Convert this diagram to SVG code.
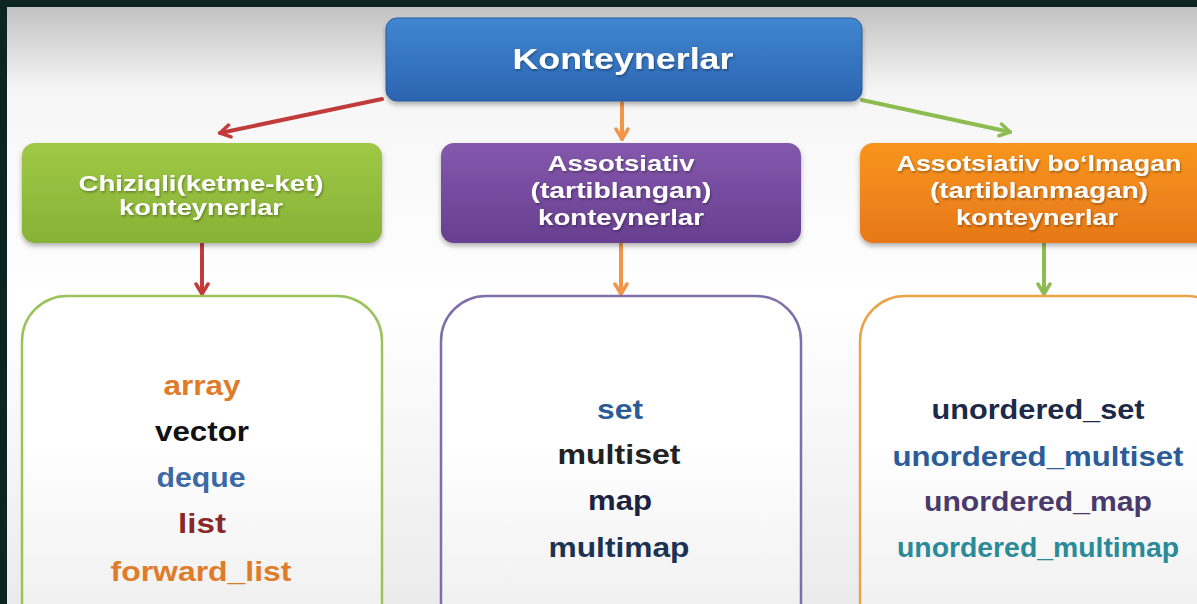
<svg xmlns="http://www.w3.org/2000/svg" width="1197" height="604" viewBox="0 0 1197 604">
<defs>
  <linearGradient id="bg" x1="0" y1="0" x2="0" y2="1">
    <stop offset="0" stop-color="#c2c2c2"/>
    <stop offset="0.14" stop-color="#f6f6f6"/>
    <stop offset="0.5" stop-color="#ffffff"/>
    <stop offset="1" stop-color="#ebebeb"/>
  </linearGradient>
  <linearGradient id="gBlue" x1="0" y1="0" x2="0" y2="1">
    <stop offset="0" stop-color="#3f86d0"/>
    <stop offset="1" stop-color="#2c64b0"/>
  </linearGradient>
  <linearGradient id="gGreen" x1="0" y1="0" x2="0" y2="1">
    <stop offset="0" stop-color="#9fc845"/>
    <stop offset="1" stop-color="#86b236"/>
  </linearGradient>
  <linearGradient id="gPurple" x1="0" y1="0" x2="0" y2="1">
    <stop offset="0" stop-color="#8458ac"/>
    <stop offset="1" stop-color="#683f90"/>
  </linearGradient>
  <linearGradient id="gOrange" x1="0" y1="0" x2="0" y2="1">
    <stop offset="0" stop-color="#f8951f"/>
    <stop offset="1" stop-color="#e77818"/>
  </linearGradient>
  <linearGradient id="gBox" x1="0" y1="0" x2="0" y2="1">
    <stop offset="0" stop-color="#ffffff"/>
    <stop offset="0.4" stop-color="#ffffff"/>
    <stop offset="1" stop-color="#ececec"/>
  </linearGradient>
  <filter id="shadow" x="-10%" y="-10%" width="120%" height="140%">
    <feDropShadow dx="0" dy="3" stdDeviation="2.5" flood-color="#000" flood-opacity="0.3"/>
  </filter>
  <filter id="tshadow" x="-5%" y="-20%" width="110%" height="150%">
    <feDropShadow dx="1" dy="1.5" stdDeviation="0.8" flood-color="#000" flood-opacity="0.35"/>
  </filter>
  <marker id="mRed" viewBox="0 0 16 16" refX="13" refY="8" markerWidth="16" markerHeight="16" markerUnits="userSpaceOnUse" orient="auto">
    <path d="M3,2 L13,8 L3,14" fill="none" stroke="#c23b3b" stroke-width="3.5" stroke-linecap="round" stroke-linejoin="round"/>
  </marker>
  <marker id="mOrange" viewBox="0 0 16 16" refX="13" refY="8" markerWidth="16" markerHeight="16" markerUnits="userSpaceOnUse" orient="auto">
    <path d="M3,2 L13,8 L3,14" fill="none" stroke="#f0954a" stroke-width="3.5" stroke-linecap="round" stroke-linejoin="round"/>
  </marker>
  <marker id="mGreen" viewBox="0 0 16 16" refX="13" refY="8" markerWidth="16" markerHeight="16" markerUnits="userSpaceOnUse" orient="auto">
    <path d="M3,2 L13,8 L3,14" fill="none" stroke="#8dbd52" stroke-width="3.5" stroke-linecap="round" stroke-linejoin="round"/>
  </marker>
</defs>
<style>
  .hd { font-family: "Liberation Sans", Arial, sans-serif; font-weight: bold; fill: #ffffff; text-anchor: middle; }
  .it { font-family: "Liberation Sans", Arial, sans-serif; font-weight: bold; font-size: 28px; text-anchor: middle; }
  .conn { fill: none; stroke-width: 4; stroke-linecap: round; }
  .box { fill: url(#gBox); stroke-width: 2.5; }
</style>

<rect x="0" y="0" width="1197" height="604" fill="#0c2521"/>
<rect x="7" y="7" width="1190" height="597" fill="url(#bg)"/>

<g id="connectors">
  <line class="conn" x1="382" y1="99" x2="220" y2="133" stroke="#c23b3b" marker-end="url(#mRed)"/>
  <line class="conn" x1="622" y1="103" x2="622" y2="139" stroke="#f0954a" marker-end="url(#mOrange)"/>
  <line class="conn" x1="862" y1="100" x2="1010" y2="132" stroke="#8dbd52" marker-end="url(#mGreen)"/>
  <line class="conn" x1="202" y1="244" x2="202" y2="294" stroke="#c23b3b" marker-end="url(#mRed)"/>
  <line class="conn" x1="621" y1="244" x2="621" y2="294" stroke="#f0954a" marker-end="url(#mOrange)"/>
  <line class="conn" x1="1044" y1="244" x2="1044" y2="294" stroke="#8dbd52" marker-end="url(#mGreen)"/>
</g>

<g id="root">
  <rect x="386" y="18" width="476" height="83" rx="11" fill="url(#gBlue)" stroke="#2a5c9e" stroke-width="1" filter="url(#shadow)"/>
  <text class="hd" x="623" y="69" font-size="30" textLength="221" lengthAdjust="spacingAndGlyphs" filter="url(#tshadow)">Konteynerlar</text>
</g>

<g id="linear-header">
  <rect x="22" y="143" width="360" height="100" rx="13" fill="url(#gGreen)" filter="url(#shadow)"/>
  <text class="hd" x="201" y="191" font-size="22" textLength="245" lengthAdjust="spacingAndGlyphs" filter="url(#tshadow)">Chiziqli(ketme-ket)</text>
  <text class="hd" x="201" y="215" font-size="22" textLength="164" lengthAdjust="spacingAndGlyphs" filter="url(#tshadow)">konteynerlar</text>
</g>

<g id="assoc-header">
  <rect x="441" y="143" width="360" height="100" rx="13" fill="url(#gPurple)" filter="url(#shadow)"/>
  <text class="hd" x="621" y="171" font-size="22" textLength="147" lengthAdjust="spacingAndGlyphs" filter="url(#tshadow)">Assotsiativ</text>
  <text class="hd" x="621" y="198" font-size="22" textLength="181" lengthAdjust="spacingAndGlyphs" filter="url(#tshadow)">(tartiblangan)</text>
  <text class="hd" x="621" y="225" font-size="22" textLength="166" lengthAdjust="spacingAndGlyphs" filter="url(#tshadow)">konteynerlar</text>
</g>

<g id="unordered-header">
  <rect x="860" y="143" width="370" height="100" rx="13" fill="url(#gOrange)" filter="url(#shadow)"/>
  <text class="hd" x="1039" y="171" font-size="22" textLength="285" lengthAdjust="spacingAndGlyphs" filter="url(#tshadow)">Assotsiativ bo‘lmagan</text>
  <text class="hd" x="1039" y="198" font-size="22" textLength="218" lengthAdjust="spacingAndGlyphs" filter="url(#tshadow)">(tartiblanmagan)</text>
  <text class="hd" x="1037" y="225" font-size="22" textLength="162" lengthAdjust="spacingAndGlyphs" filter="url(#tshadow)">konteynerlar</text>
</g>

<g id="linear-box">
  <rect class="box" x="22" y="296" width="360" height="360" rx="45" stroke="#9cc25a"/>
  <text class="it" x="202" y="395" fill="#e07b2a" textLength="77" lengthAdjust="spacingAndGlyphs">array</text>
  <text class="it" x="202" y="441" fill="#111111" textLength="94" lengthAdjust="spacingAndGlyphs">vector</text>
  <text class="it" x="201" y="487" fill="#3a6aa6" textLength="89" lengthAdjust="spacingAndGlyphs">deque</text>
  <text class="it" x="202" y="533" fill="#8a2828" textLength="48" lengthAdjust="spacingAndGlyphs">list</text>
  <text class="it" x="201" y="581" fill="#e07b2a" textLength="181" lengthAdjust="spacingAndGlyphs">forward_list</text>
</g>

<g id="assoc-box">
  <rect class="box" x="441" y="296" width="360" height="360" rx="45" stroke="#7f6ea8"/>
  <text class="it" x="620" y="419" fill="#2c5c98" textLength="46" lengthAdjust="spacingAndGlyphs">set</text>
  <text class="it" x="619" y="464" fill="#222222" textLength="123" lengthAdjust="spacingAndGlyphs">multiset</text>
  <text class="it" x="620" y="510" fill="#1c2242" textLength="64" lengthAdjust="spacingAndGlyphs">map</text>
  <text class="it" x="619" y="557" fill="#1c3252" textLength="141" lengthAdjust="spacingAndGlyphs">multimap</text>
</g>

<g id="unordered-box">
  <rect class="box" x="860" y="296" width="372" height="360" rx="45" stroke="#e9a448"/>
  <text class="it" x="1038" y="419" fill="#1c2a48" textLength="213" lengthAdjust="spacingAndGlyphs">unordered_set</text>
  <text class="it" x="1038" y="466" fill="#2c5c98" textLength="291" lengthAdjust="spacingAndGlyphs">unordered_multiset</text>
  <text class="it" x="1038" y="511" fill="#4a3a6c" textLength="228" lengthAdjust="spacingAndGlyphs">unordered_map</text>
  <text class="it" x="1038" y="557" fill="#2a8a98" textLength="282" lengthAdjust="spacingAndGlyphs">unordered_multimap</text>
</g>
</svg>
